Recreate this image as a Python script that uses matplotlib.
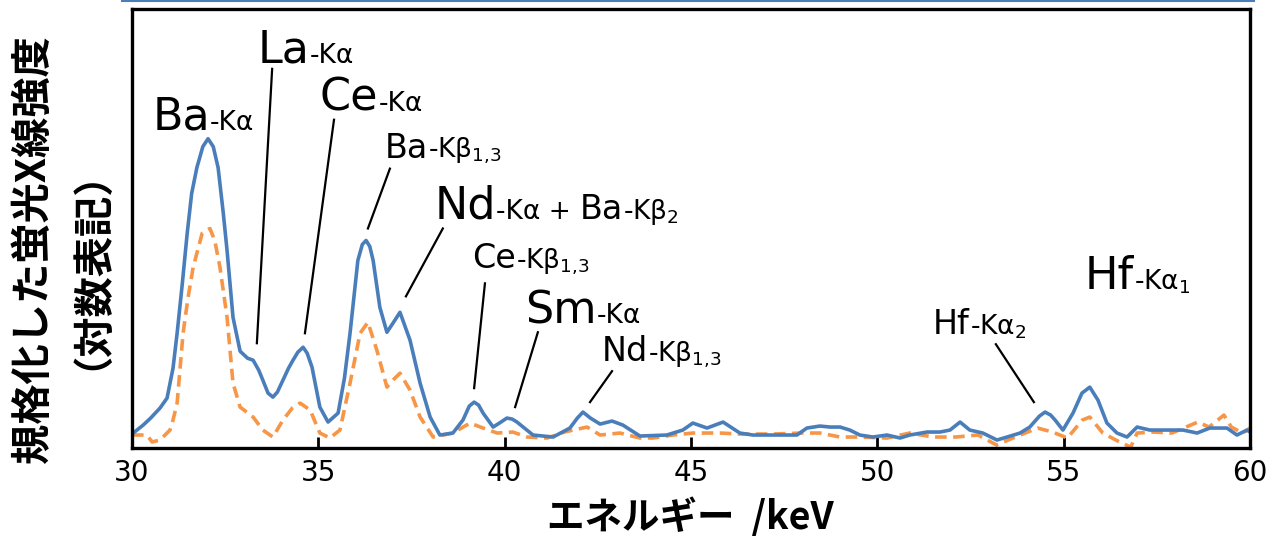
import matplotlib
matplotlib.use("Agg")
import matplotlib.pyplot as plt
from matplotlib.lines import Line2D

# spectrum: energy (keV) and height (arbitrary log units)
blue_kev = [30.0, 30.3, 30.5, 30.75, 30.94, 31.1, 31.21, 31.35, 31.48, 31.6,
            31.74, 31.9, 32.04, 32.18, 32.31, 32.45, 32.55, 32.71, 32.9, 33.1,
            33.25, 33.4, 33.51, 33.65, 33.78, 33.9, 34.05, 34.2, 34.32, 34.45,
            34.59, 34.7, 34.83, 35.04, 35.26, 35.53, 35.7, 35.85, 36.06, 36.18,
            36.28, 36.38, 36.47, 36.65, 36.84, 37.0, 37.19, 37.46, 37.73, 38.0,
            38.26, 38.61, 38.88, 39.05, 39.18, 39.3, 39.42, 39.69, 39.9, 40.06,
            40.2, 40.33, 40.76, 41.3, 41.75, 41.95, 42.1, 42.3, 42.56, 42.88,
            43.17, 43.63, 44.35, 44.78, 45.05, 45.43, 45.86, 46.31, 46.66, 47.12,
            47.84, 48.11, 48.46, 48.73, 49.0, 49.26, 49.53, 49.88, 50.26, 50.61,
            50.87, 51.33, 51.68, 51.95, 52.22, 52.48, 52.83, 53.21, 53.48, 53.83,
            54.09, 54.35, 54.5, 54.65, 54.77, 54.98, 55.25, 55.49, 55.7, 55.92,
            56.16, 56.43, 56.7, 56.97, 57.31, 57.77, 58.2, 58.58, 58.92, 59.38,
            59.65, 59.92, 60.0]
blue_int = [14, 23, 30, 40, 50, 80, 115, 165, 215, 255,
            281, 302, 310, 302, 281, 235, 198, 131, 97, 90,
            88, 78, 68, 55, 51, 56, 68, 80, 88, 96,
            101, 95, 81, 41, 26, 35, 70, 115, 188, 204,
            208, 202, 188, 141, 116, 125, 136, 108, 65, 31,
            13, 15, 28, 42, 46, 43, 35, 21, 26, 30,
            29, 26, 13, 11, 20, 30, 36, 30, 24, 27,
            23, 12, 13, 18, 25, 20, 26, 15, 13, 13,
            13, 20, 22, 21, 21, 18, 13, 11, 13, 10,
            13, 16, 16, 18, 26, 18, 15, 8, 11, 15,
            21, 32, 36, 33, 28, 18, 35, 55, 61, 48,
            25, 15, 11, 21, 18, 18, 18, 15, 20, 20,
            13, 18, 16]

orange_kev = [30.0, 30.4, 30.54, 30.75, 31.02, 31.1, 31.21, 31.37, 31.5, 31.64,
              31.88, 32.09, 32.22, 32.36, 32.55, 32.71, 32.9, 33.25, 33.51, 33.78,
              34.05, 34.3, 34.51, 34.78, 35.04, 35.31, 35.58, 35.85, 36.12, 36.33,
              36.57, 36.84, 37.0, 37.19, 37.46, 37.73, 38.08, 38.61, 39.07, 39.42,
              39.8, 40.22, 40.6, 41.14, 41.6, 42.21, 42.56, 43.09, 43.63, 43.98,
              44.51, 45.05, 45.78, 46.31, 47.2, 48.0, 48.46, 49.0, 49.53, 50.26,
              50.87, 51.5, 52.1, 52.7, 53.2, 53.7, 54.3, 54.7, 55.1, 55.5,
              55.7, 56.05, 56.5, 56.8, 56.97, 57.4, 57.9, 58.6, 58.9, 59.3,
              59.5, 59.8, 60.0]
orange_int = [13, 13, 6, 8, 18, 28, 45, 115, 150, 181,
              215, 220, 208, 181, 131, 65, 41, 31, 18, 11,
              28, 40, 45, 38, 15, 10, 18, 65, 115, 126,
              98, 61, 68, 75, 58, 31, 11, 15, 25, 20,
              15, 16, 11, 10, 16, 21, 13, 15, 10, 10,
              13, 15, 15, 14, 14, 15, 15, 11, 11, 10,
              15, 11, 11, 13, 3, 11, 20, 16, 10, 28,
              31, 15, 6, 1, 15, 16, 15, 26, 21, 33,
              21, 15, 20]

# peak labels: (x, baseline y, [(text, size)...])
BIG, MID, SUF = 32, 24, 19
labels = [
    (30.54, 319, [("Ba", BIG), ("-Kα", SUF)]),
    (33.38, 386, [("La", BIG), ("-Kα", SUF)]),
    (35.04, 338, [("Ce", BIG), ("-Kα", SUF)]),
    (36.79, 291, [("Ba", MID), (r"-Kβ$_{1{,}3}$", SUF)]),
    (38.13, 230, [("Nd", BIG), ("-Kα + ", SUF), ("Ba", MID), (r"-Kβ$_{2}$", SUF)]),
    (39.12, 180, [("Ce", MID), (r"-Kβ$_{1{,}3}$", SUF)]),
    (40.54, 125, [("Sm", BIG), ("-Kα", SUF)]),
    (42.61, 87, [("Nd", MID), (r"-Kβ$_{1{,}3}$", SUF)]),
    (51.49, 114, [("Hf", MID), (r"-Kα$_{2}$", SUF)]),
    (55.57, 159, [("Hf", BIG), (r"-Kα$_{1}$", SUF)]),
]
# leader lines: (x0, y0, x1, y1)
leaders = [
    (33.76, 380, 33.35, 105),
    (35.42, 329, 34.64, 115),
    (36.92, 280, 36.33, 220),
    (38.34, 220, 37.35, 152),
    (39.47, 165, 39.18, 60),
    (40.89, 116, 40.28, 41),
    (42.88, 77, 42.29, 46),
    (53.18, 104, 54.20, 46),
]

fig = plt.figure(figsize=(12.67, 5.41), dpi=100)
ax = fig.add_axes([0.1042, 0.1719, 0.8824, 0.8115])

ax.plot(orange_kev, orange_int, color="#F79646", lw=2.6, dashes=(3.2, 1.8))
ax.plot(blue_kev, blue_int, color="#4A7EBB", lw=2.6)

for x0, y0, x1, y1 in leaders:
    ax.plot([x0, x1], [y0, y1], color="black", lw=1.6)

ax.set_xlim(30, 60)
ax.set_ylim(0, 440)
ax.set_xticks([30, 35, 40, 45, 50, 55, 60])
ax.set_yticks([])
ax.tick_params(axis="x", direction="in", length=8, width=2, pad=8, labelsize=20)
for sp in ax.spines.values():
    sp.set_linewidth(2.4)

renderer = fig.canvas.get_renderer()
for x, y, parts in labels:
    dx = 0
    for s, size in parts:
        t = ax.annotate(s, (x, y), xytext=(dx, 0), textcoords="offset points",
                        fontsize=size, va="baseline", ha="left")
        dx += t.get_window_extent(renderer).width * 72 / fig.dpi

jp = ["Noto Sans CJK JP", "DejaVu Sans"]
fig.text(0.041, 0.54, "規格化した蛍光X線強度\n（対数表記）", rotation=90,
         ha="center", va="center", multialignment="center",
         fontsize=29, fontweight="bold", family=jp, linespacing=0.9)
fig.text(0.545, 0.044, "エネルギー  /keV", ha="center", va="center",
         fontsize=27, fontweight="bold", family=jp)

# thin blue rule at the very top of the image
fig.add_artist(Line2D([0.096, 0.99], [0.998, 0.998], color="#4A7EBB", lw=1.5))

fig.savefig("out.png", dpi=100)
